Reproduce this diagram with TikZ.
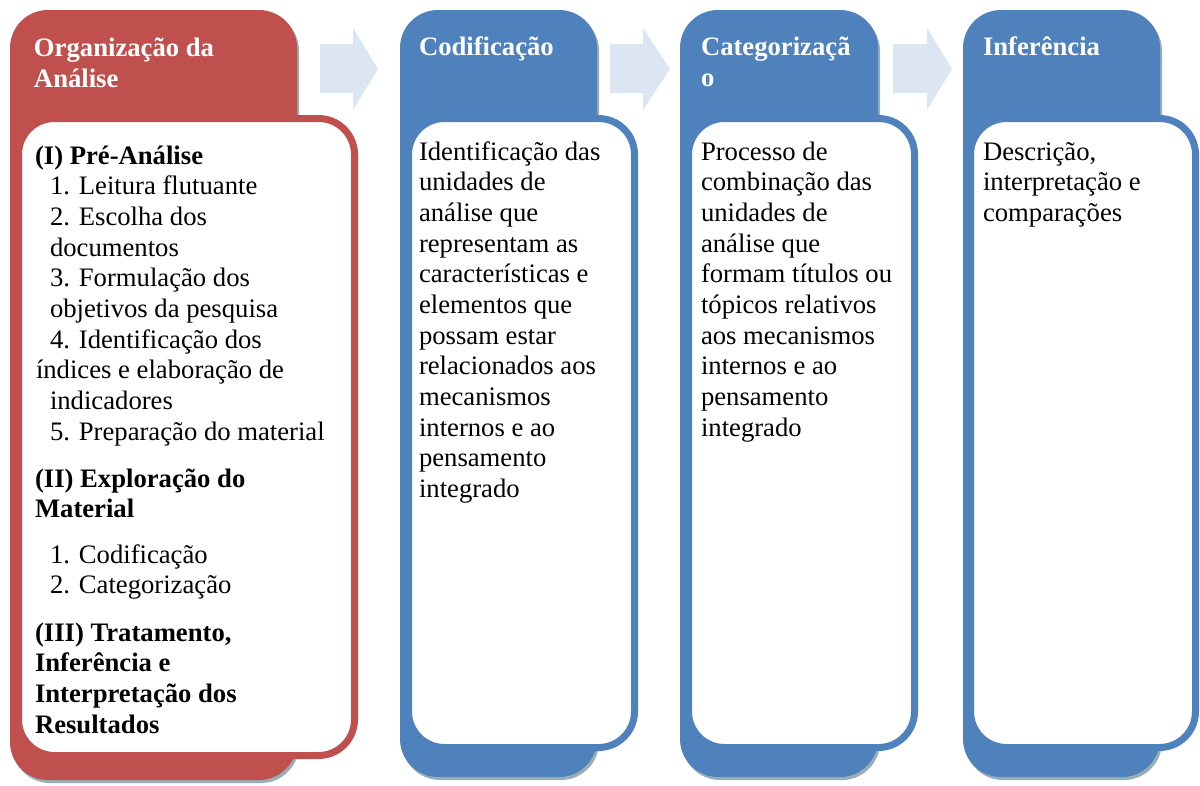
\documentclass[tikz,border=0pt]{standalone}
\usepackage{fontspec}
\setmainfont{Liberation Serif}
\usetikzlibrary{shadows}
\definecolor{redc}{HTML}{C0504D}
\definecolor{bluec}{HTML}{4F81BD}
\definecolor{arrowc}{HTML}{DCE6F2}
\definecolor{shadc}{HTML}{97AEB4}
\newcommand{\mybody}{\fontsize{26.67}{30.67}\selectfont}
\begin{document}
\begin{tikzpicture}[x=1pt,y=-1pt,
  outerbox/.style={rectangle, rounded corners=38pt, inner sep=0pt, outer sep=0pt,
    anchor=north west, draw=none,
    drop shadow={shadow xshift=2pt, shadow yshift=-3pt, fill=shadc, opacity=1}},
  innerbox/.style={rectangle, rounded corners=36pt, inner sep=0pt, outer sep=0pt,
    anchor=north west, fill=white, line width=7pt},
  txt/.style={anchor=base west, inner sep=0pt, outer sep=0pt, font=\mybody},
  hdr/.style={txt, text=white, font=\mybody\bfseries},
  bld/.style={txt, font=\mybody\bfseries},
  blockarrow/.style={fill=arrowc}
]
\useasboundingbox (0,0) rectangle (1200,785);
\fill[white] (0,0) rectangle (1200,785);

% block arrows
\fill[blockarrow] (320,44) -- (353,44) -- (353,28) -- (378,69) -- (353,110) -- (353,93) -- (320,93) -- cycle;
\fill[blockarrow] (610,44) -- (643,44) -- (643,28) -- (670,69) -- (643,110) -- (643,93) -- (610,93) -- cycle;
\fill[blockarrow] (893,44) -- (927,44) -- (927,28) -- (952,69) -- (927,110) -- (927,93) -- (893,93) -- cycle;

% outer header boxes
\node[outerbox, fill=redc,  minimum width=287pt, minimum height=770pt] (o1) at (10,10) {};
\node[outerbox, fill=bluec, minimum width=197pt, minimum height=767pt] (o2) at (400,10) {};
\node[outerbox, fill=bluec, minimum width=198pt, minimum height=767pt] (o3) at (680,10) {};
\node[outerbox, fill=bluec, minimum width=197pt, minimum height=767pt] (o4) at (963,10) {};

% inner white boxes
\node[innerbox, draw=redc,  minimum width=336pt, minimum height=637pt] (i1) at (18.5,118.5) {};
\node[innerbox, draw=bluec, minimum width=226pt, minimum height=629pt] (i2) at (408.5,118.5) {};
\node[innerbox, draw=bluec, minimum width=226pt, minimum height=629pt] (i3) at (688.5,118.5) {};
\node[innerbox, draw=bluec, minimum width=225pt, minimum height=629pt] (i4) at (970.5,118.5) {};

% headers
\node[hdr] (h1a) at (34,56) {Organização da};
\node[hdr] (h1b) at (34,87) {Análise};
\node[hdr] (h2) at (419,55) {Codificação};
\node[hdr] (h3a) at (701,55) {Categorizaçã};
\node[hdr] (h3b) at (701,86) {o};
\node[hdr] (h4) at (983,55) {Inferência};

% column 1 body
\node[bld] (c1a) at (35,164) {(I) Pré-Análise};
\node[txt] (c1b) at (50,194.7) {1. Leitura flutuante};
\node[txt] (c1c) at (50,225.3) {2. Escolha dos};
\node[txt] (c1d) at (50,256) {documentos};
\node[txt] (c1e) at (50,286.7) {3. Formulação dos};
\node[txt] (c1f) at (50,317.3) {objetivos da pesquisa};
\node[txt] (c1g) at (50,348) {4. Identificação dos};
\node[txt] (c1h) at (36,378.7) {índices e elaboração de};
\node[txt] (c1i) at (50,409.3) {indicadores};
\node[txt] (c1j) at (50,440) {5. Preparação do material};
\node[bld] (c1k) at (35,487) {(II) Exploração do};
\node[bld] (c1l) at (35,517.7) {Material};
\node[txt] (c1m) at (50,563) {1. Codificação};
\node[txt] (c1n) at (50,593.7) {2. Categorização};
\node[bld] (c1o) at (35,641) {(III) Tratamento,};
\node[bld] (c1p) at (35,671.7) {Inferência e};
\node[bld] (c1q) at (35,702.3) {Interpretação dos};
\node[bld] (c1r) at (35,733) {Resultados};

% column 2 body
\foreach \t [count=\i] in {Identificação das, unidades de, análise que, representam as,
  características e, elementos que, possam estar, relacionados aos, mecanismos,
  internos e ao, pensamento, integrado}
  \node[txt] (c2l\i) at (419,{160+30.67*(\i-1)}) {\t};

% column 3 body
\foreach \t [count=\i] in {Processo de, combinação das, unidades de, análise que,
  formam títulos ou, tópicos relativos, aos mecanismos, internos e ao, pensamento, integrado}
  \node[txt] (c3l\i) at (701,{160+30.67*(\i-1)}) {\t};

% column 4 body
\foreach \t [count=\i] in {{Descrição,}, interpretação e, comparações}
  \node[txt] (c4l\i) at (983,{160+30.67*(\i-1)}) {\t};
\end{tikzpicture}
\end{document}
